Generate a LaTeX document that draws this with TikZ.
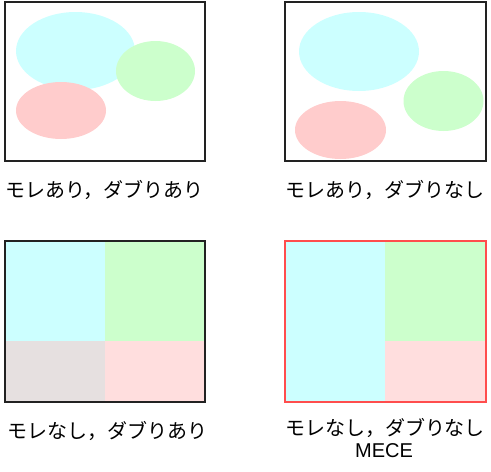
\documentclass[tikz,border=0pt]{standalone}
\usepackage{fontspec}
\newfontfamily\jpfont{Noto Sans CJK JP}
\newfontfamily\latinfont{Liberation Sans}
\usetikzlibrary{shapes.geometric}
\definecolor{cyanf}{HTML}{CCFFFF}
\definecolor{greenf}{HTML}{CCFFCC}
\definecolor{pinkf}{HTML}{FFCCCC}
\definecolor{pinkl}{HTML}{FFDEDE}
\definecolor{grayf}{HTML}{E6E0E0}
\definecolor{redl}{HTML}{FF4D4D}
\definecolor{framec}{HTML}{222222}
\tikzset{
  frame/.style={draw=framec, line width=1.8pt},
  redframe/.style={draw=redl, line width=1.8pt},
  lbl/.style={font=\jpfont\fontsize{20}{23}\selectfont, inner sep=0pt, align=center},
}
\begin{document}
\begin{tikzpicture}[x=1pt,y=-1pt]
\useasboundingbox (0,0) rectangle (491,472);
% ---- top left: gaps and overlaps
\fill[cyanf] (75.5,51) ellipse [x radius=59.5, y radius=39];
\fill[greenf] (155.5,71) ellipse [x radius=39.5, y radius=30];
\fill[pinkf] (61,110.5) ellipse [x radius=45, y radius=28.5];
\draw[frame] (5,2) rectangle (205,161);
\node[lbl] (l1) at (104.5,190) {モレあり，ダブりあり};
% ---- top right: gaps, no overlaps
\fill[cyanf] (359,51.5) ellipse [x radius=60, y radius=39.5];
\fill[greenf] (443.5,101) ellipse [x radius=40, y radius=30];
\fill[pinkf] (340.5,130) ellipse [x radius=45.5, y radius=29];
\draw[frame] (285,2) rectangle (486,161);
\node[lbl] (l2) at (385,190) {モレあり，ダブりなし};
% ---- bottom left: no gaps, overlaps
\fill[cyanf] (5,241) rectangle (105,341);
\fill[greenf] (105,241) rectangle (205,341);
\fill[grayf] (5,341) rectangle (105,402);
\fill[pinkl] (105,341) rectangle (205,402);
\draw[frame] (5,241) rectangle (205,402);
\node[lbl] (l3) at (108,431) {モレなし，ダブりあり};
% ---- bottom right: MECE
\fill[cyanf] (285,241) rectangle (385,402);
\fill[greenf] (385,241) rectangle (486,341);
\fill[pinkl] (385,341) rectangle (486,402);
\draw[redframe] (285,241) rectangle (486,402);
\node[lbl] (l4) at (385,428) {モレなし，ダブりなし};
\node[inner sep=0pt, font=\latinfont\fontsize{20}{23}\selectfont] (l5) at (384,451) {MECE};
\end{tikzpicture}
\end{document}
